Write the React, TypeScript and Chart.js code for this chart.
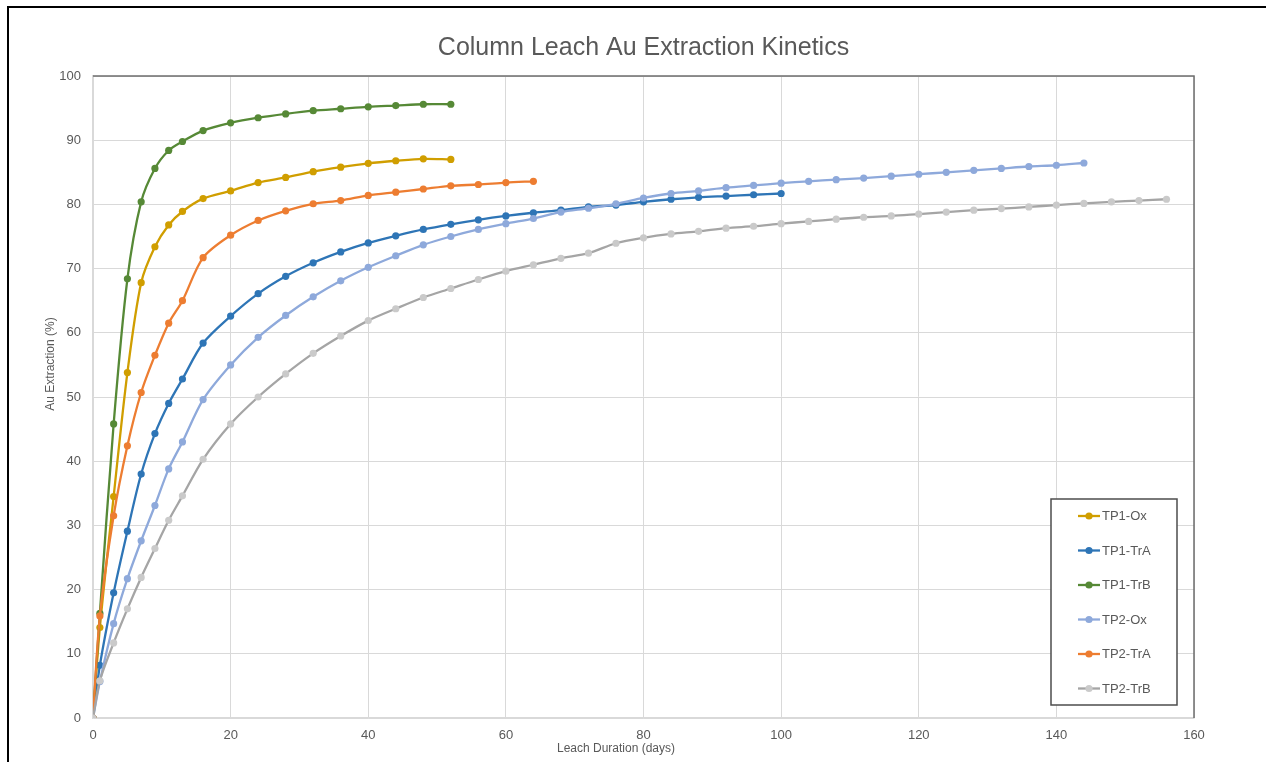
import React, { useEffect, useRef } from "react";
import { Chart, registerables } from "chart.js";

Chart.register(...registerables);

const chartTitle = "Column Leach Au Extraction Kinetics";
const xAxisTitle = "Leach Duration (days)";
const yAxisTitle = "Au Extraction (%)";

const days = [0, 1, 3, 5, 7, 9, 11, 13, 16, 20, 24, 28, 32, 36, 40, 44, 48, 52, 56, 60, 64, 68, 72, 76, 80, 84, 88, 92, 96, 100, 104, 108, 112, 116, 120, 124, 128, 132, 136, 140, 144, 148, 152, 156];

const seriesNames = ["TP1-Ox", "TP1-TrA", "TP1-TrB", "TP2-Ox", "TP2-TrA", "TP2-TrB"];

const tp1Ox = [0, 14.1, 34.5, 53.8, 67.8, 73.4, 76.8, 78.9, 80.9, 82.1, 83.4, 84.2, 85.1, 85.8, 86.4, 86.8, 87.1, 87.0];
const tp1TrA = [0, 8.2, 19.5, 29.1, 38.0, 44.3, 49.0, 52.8, 58.4, 62.6, 66.1, 68.8, 70.9, 72.6, 74.0, 75.1, 76.1, 76.9, 77.6, 78.2, 78.7, 79.1, 79.6, 79.9, 80.4, 80.8, 81.1, 81.3, 81.5, 81.7];
const tp1TrB = [0, 16.3, 45.8, 68.4, 80.4, 85.6, 88.4, 89.8, 91.5, 92.7, 93.5, 94.1, 94.6, 94.9, 95.2, 95.4, 95.6, 95.6];
const tp2Ox = [0, 5.7, 14.7, 21.7, 27.6, 33.1, 38.8, 43.0, 49.6, 55.0, 59.3, 62.7, 65.6, 68.1, 70.2, 72.0, 73.7, 75.0, 76.1, 77.0, 77.8, 78.8, 79.4, 80.1, 81.0, 81.7, 82.1, 82.6, 82.95, 83.3, 83.6, 83.85, 84.1, 84.4, 84.7, 85.0, 85.3, 85.6, 85.9, 86.1, 86.45];
const tp2TrA = [0, 15.9, 31.5, 42.4, 50.7, 56.5, 61.5, 65.0, 71.7, 75.2, 77.5, 79.0, 80.1, 80.6, 81.4, 81.9, 82.4, 82.9, 83.1, 83.4, 83.6];
const tp2TrB = [0, 5.8, 11.7, 17.0, 21.9, 26.4, 30.8, 34.6, 40.3, 45.8, 50.0, 53.6, 56.8, 59.5, 61.9, 63.75, 65.5, 66.9, 68.3, 69.6, 70.6, 71.6, 72.4, 73.95, 74.8, 75.4, 75.8, 76.3, 76.6, 77.0, 77.35, 77.7, 78.0, 78.2, 78.5, 78.8, 79.1, 79.35, 79.6, 79.9, 80.15, 80.4, 80.6, 80.8];

const lineColors = ["#D09E00", "#2E75B6", "#568936", "#8EA9DB", "#ED7D31", "#A5A5A5"];
const markerColors = ["#D09E00", "#2E75B6", "#568936", "#8EA9DB", "#ED7D31", "#CACACA"];

const xMin = 0;
const xMax = 160;
const xStep = 20;
const yMin = 0;
const yMax = 100;
const yStep = 10;

const FONT = "'Liberation Sans', Arial, sans-serif";
const TEXT = "#595959";
const GRID = "#D9D9D9";

export default function App() {
  const ref = useRef<HTMLCanvasElement>(null);

  useEffect(() => {
    const canvas = ref.current;
    if (!canvas) return;
    const seriesValues = [tp1Ox, tp1TrA, tp1TrB, tp2Ox, tp2TrA, tp2TrB];

    const datasets = seriesValues.map((vals, i) => ({
      label: seriesNames[i],
      data: vals.map((v, j) => ({ x: days[j], y: v })),
      borderColor: lineColors[i],
      backgroundColor: markerColors[i],
      pointBackgroundColor: markerColors[i],
      pointBorderColor: markerColors[i],
      pointRadius: 3.6,
      pointBorderWidth: 0,
      borderWidth: 2.3,
      tension: 0.3,
      order: 5 - i,
    }));

    const decor = {
      id: "decor",
      afterDraw(chart: any) {
        const { ctx, chartArea: a } = chart;
        ctx.save();
        // plot area border (top & right)
        ctx.strokeStyle = "#6E6E6E";
        ctx.lineWidth = 1.5;
        ctx.beginPath();
        ctx.moveTo(a.left, a.top);
        ctx.lineTo(a.right, a.top);
        ctx.lineTo(a.right, a.bottom);
        ctx.stroke();

        // axis titles
        ctx.fillStyle = TEXT;
        ctx.font = `12px ${FONT}`;
        ctx.textAlign = "center";
        ctx.textBaseline = "middle";
        ctx.fillText(xAxisTitle, a.left + 523, a.bottom + 31);
        ctx.save();
        ctx.translate(a.left - 42, a.top + 288);
        ctx.rotate(-Math.PI / 2);
        ctx.fillText(yAxisTitle, 0, 0);
        ctx.restore();

        // legend
        const lx = a.right - 143;
        const ly = a.bottom - 219;
        const lw = 126;
        const lh = 206;
        ctx.fillStyle = "#FFFFFF";
        ctx.fillRect(lx, ly, lw, lh);
        ctx.strokeStyle = "#4D4D4D";
        ctx.lineWidth = 1.5;
        ctx.strokeRect(lx, ly, lw, lh);
        ctx.font = `13px ${FONT}`;
        ctx.textAlign = "left";
        ctx.textBaseline = "middle";
        seriesNames.forEach((name, i) => {
          const y = ly + 17 + i * 34.5;
          ctx.strokeStyle = lineColors[i];
          ctx.lineWidth = 2.3;
          ctx.beginPath();
          ctx.moveTo(lx + 27, y);
          ctx.lineTo(lx + 49, y);
          ctx.stroke();
          ctx.fillStyle = markerColors[i];
          ctx.beginPath();
          ctx.arc(lx + 38, y, 3.6, 0, Math.PI * 2);
          ctx.fill();
          ctx.fillStyle = TEXT;
          ctx.fillText(name, lx + 51, y + 0.5);
        });
        ctx.restore();
      },
    };

    const chart = new Chart(canvas, {
      type: "line",
      data: { datasets },
      options: {
        animation: false,
        responsive: false,
        devicePixelRatio: 1,
        layout: { padding: { top: 0, right: 72, bottom: 0, left: 0 } },
        plugins: {
          legend: { display: false },
          tooltip: { enabled: false },
          title: {
            display: true,
            text: chartTitle,
            fullSize: false,
            color: TEXT,
            font: { family: FONT, size: 25, weight: "normal" },
            padding: { top: 33, bottom: 13 },
          },
        },
        scales: {
          x: {
            type: "linear",
            min: xMin,
            max: xMax,
            ticks: {
              stepSize: xStep,
              padding: 10,
              color: TEXT,
              font: { family: FONT, size: 13 },
            },
            grid: { color: GRID, lineWidth: 1, drawTicks: false },
            border: { color: GRID, width: 1.5 },
            afterFit: (s: any) => {
              s.height = 44;
            },
          },
          y: {
            type: "linear",
            min: yMin,
            max: yMax,
            ticks: {
              stepSize: yStep,
              padding: 12,
              color: TEXT,
              font: { family: FONT, size: 13 },
            },
            grid: { color: GRID, lineWidth: 1, drawTicks: false },
            border: { color: GRID, width: 1.5 },
            afterFit: (s: any) => {
              s.width = 93;
            },
          },
        },
      },
      plugins: [decor],
    } as any);

    return () => chart.destroy();
  }, []);

  return (
    <>
      <div style={{ position: "absolute", left: 0, top: 0, width: 1266, height: 762, background: "#fff" }}>
        <canvas ref={ref} width={1266} height={762} style={{ width: 1266, height: 762, display: "block" }} />
      </div>
      <div
        style={{
          position: "absolute",
          left: 7,
          top: 6,
          width: 1259,
          height: 756,
          borderTop: "2px solid #000",
          borderLeft: "2px solid #000",
          boxSizing: "border-box",
          pointerEvents: "none",
        }}
      />
    </>
  );
}
